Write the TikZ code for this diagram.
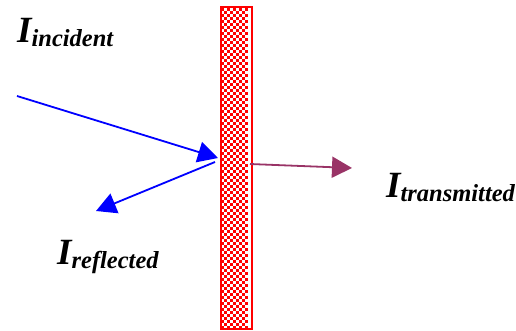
\documentclass[tikz,border=0pt]{standalone}
\usepackage{fontspec}
\setmainfont{Liberation Serif}
\usetikzlibrary{arrows.meta}
\definecolor{transm}{HTML}{993366}
\tikzset{
  beam/.style={line width=1.8pt, -{Triangle[length=20pt,width=21pt]}},
  lbl/.style={inner sep=0pt, anchor=base west, font=\bfseries\itshape},
}
\newcommand{\intens}[1]{\fontsize{37}{37}\selectfont I\raisebox{-4pt}{\fontsize{24.5}{24.5}\selectfont #1}}
\begin{document}
\begin{tikzpicture}[x=1pt,y=-1pt]
  \useasboundingbox (0,0) rectangle (516,331);
  % the slab: red and white checkerboard inside a red frame
  \fill[white] (220,7) rectangle (250,327);
  \foreach \j in {0,...,106}{
    \pgfmathtruncatemacro\off{mod(\j,2)}
    \foreach \i in {0,2,...,8}{
      \pgfmathsetmacro\xx{221+3*(\i+\off)}
      \pgfmathsetmacro\yy{8+3*\j}
      \ifdim\xx pt<248pt
        \fill[red] (\xx,\yy) rectangle ++(3,3);
      \fi
    }
  }
  \node[draw=red, line width=2pt, minimum width=31pt, minimum height=321pt, inner sep=0pt, anchor=north west] (slab) at (219.5,6.5) {};
  % hit points on the slab
  \coordinate (src) at (17,96);
  \coordinate (hit) at (218,158);
  \coordinate (refl0) at (215,162);
  \coordinate (refl1) at (96,211);
  \coordinate (tr0) at (250,164);
  \coordinate (tr1) at (352,168);
  \draw[beam, blue] (src) -- (hit);
  \draw[beam, blue] (refl0) -- (refl1);
  \draw[beam, transm] (tr0) -- (tr1);
  % labels
  \node[lbl] (inc) at (17,43) {\intens{incident}};
  \node[lbl] (ref) at (57,264) {\intens{reflected}};
  \node[lbl] (tra) at (386,197) {\intens{transmitted}};
\end{tikzpicture}
\end{document}
